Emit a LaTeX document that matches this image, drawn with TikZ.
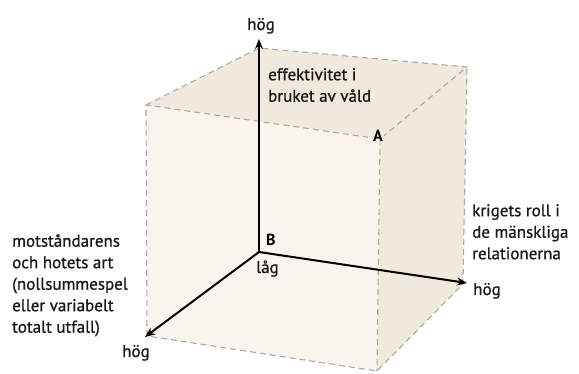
\documentclass[tikz,border=0pt]{standalone}
\usepackage{fontspec}
\setmainfont{PT Sans}
\newfontfamily\diagfont[FakeBold=0.9]{PT Sans}
\usetikzlibrary{arrows.meta}
\definecolor{facelight}{RGB}{249,245,238}
\definecolor{facedark}{RGB}{241,233,219}
\definecolor{edgegray}{RGB}{170,170,170}
\definecolor{textdark}{RGB}{25,25,25}
\tikzset{
    edge/.style={draw=edgegray, line width=1.1pt, dash pattern=on 6pt off 4pt},
    axis/.style={-{Stealth[length=10pt,width=8pt]}, line width=2pt, draw=black},
    label/.style={align=left, anchor=north west, inner sep=0pt, text=textdark, font=\diagfont\fontsize{17}{21.5}\selectfont},
    end/.style={anchor=base west, inner sep=0pt, text=textdark, font=\diagfont\fontsize{17}{21.5}\selectfont},
    tag/.style={anchor=base west, inner sep=0pt, font=\bfseries\fontsize{16}{16}\selectfont}
}
\begin{document}
\begin{tikzpicture}[x=1pt, y=-1pt]
    \useasboundingbox (0,0) rectangle (579,374);

    % Cube corners
    \coordinate (B) at (259,252);
    \coordinate (tb) at (259,48);
    \coordinate (tl) at (146,105);
    \coordinate (tf) at (380,139);
    \coordinate (tr) at (467,67);
    \coordinate (bl) at (147,336);
    \coordinate (bf) at (377,371);
    \coordinate (br) at (463,284);

    % Faces
    \fill [facedark] (tb) -- (tr) -- (tf) -- (tl) -- cycle;
    \fill [facedark] (tf) -- (tr) -- (br) -- (bf) -- cycle;
    \fill [facelight] (tl) -- (tf) -- (bf) -- (bl) -- cycle;

    % Edges
    \draw [edge] (tl) -- (tb) -- (tr) -- (tf) -- (tl) -- (bl) -- (bf) -- (br) -- (tr);
    \draw [edge] (tf) -- (bf);

    % Axes
    \coordinate (ytip) at (259,39);
    \coordinate (xtip) at (467,283);
    \coordinate (ztip) at (145,337);
    \draw [axis] (B) -- (ytip);
    \draw [axis] (B) -- (xtip);
    \draw [axis] (B) -- (ztip);

    % Labels
    \node (yhigh) [end, anchor=base] at (261,30) {hög};
    \node (xhigh) [end] at (473,295) {hög};
    \node (zhigh) [end] at (122,357) {hög};
    \node (low) [end] at (256,273) {låg};
    \node (btag) [tag] at (266,246) {B};
    \node (atag) [tag, fill=facedark, inner sep=1pt] at (372,142) {A};

    \node (ytext) [label] at (268,68) {effektivitet i\\bruket av våld};
    \node (xtext) [label] at (472,204) {krigets roll i\\de mänskliga\\relationerna};
    \node (ztext) [label] at (12,234) {motståndarens\\och hotets art\\(nollsummespel\\eller variabelt\\totalt utfall)};
\end{tikzpicture}
\end{document}
